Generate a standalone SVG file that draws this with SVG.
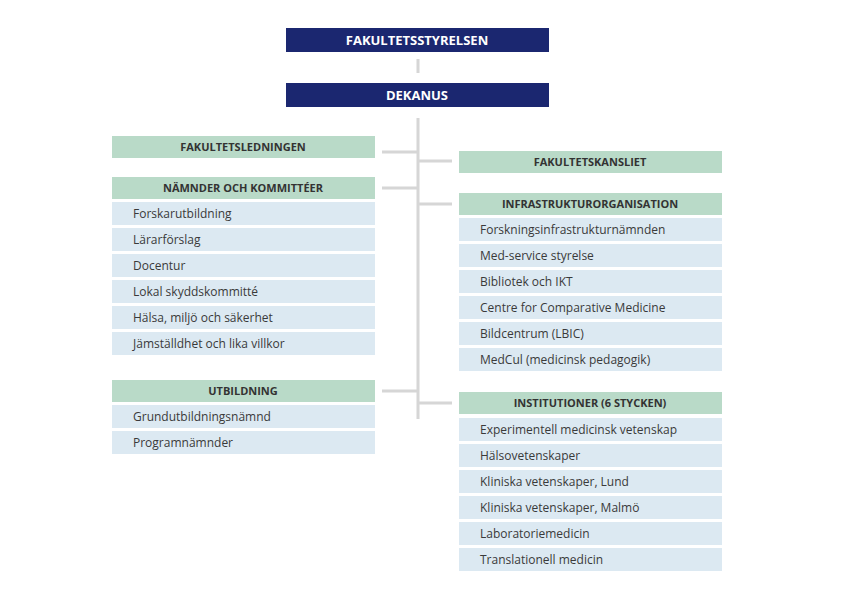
<svg xmlns="http://www.w3.org/2000/svg" width="848" height="594" viewBox="0 0 848 594">
<style>
.top{fill:#1b2770}
.tt{fill:#fff;font:bold 13px "Open Sans",sans-serif;text-anchor:middle}
.h{fill:#b9dac8}
.ht{fill:#333;font:bold 11px "Open Sans",sans-serif;text-anchor:middle}
.i{fill:#dce9f2}
.it{fill:#3a3a3a;font:12px "Open Sans",sans-serif}
.c{stroke:#d6d6d6;stroke-width:3;fill:none}
</style>
<rect width="848" height="594" fill="#fff"/>
<g id="connectors">
<path class="c" d="M418 59V73M418 118V419M382 152H418M382 188H418M382 391H418M418 161H452M418 204H452M418 403H452"/>
</g>
<g id="fakultetsstyrelsen"><rect class="top" x="286" y="28" width="263" height="24"/><text class="tt" x="417" y="45">FAKULTETSSTYRELSEN</text></g>
<g id="dekanus"><rect class="top" x="286" y="83" width="263" height="24"/><text class="tt" x="417" y="100">DEKANUS</text></g>
<g id="fakultetsledningen"><rect class="h" x="112" y="136" width="263" height="22"/><text class="ht" x="243" y="151">FAKULTETSLEDNINGEN</text></g>
<g id="namnder">
<rect class="h" x="112" y="177" width="263" height="22"/><text class="ht" x="243" y="192">NÄMNDER OCH KOMMITTÉER</text>
<rect class="i" x="112" y="202" width="263" height="23"/><text class="it" x="133" y="218">Forskarutbildning</text>
<rect class="i" x="112" y="228" width="263" height="23"/><text class="it" x="133" y="244">Lärarförslag</text>
<rect class="i" x="112" y="254" width="263" height="23"/><text class="it" x="133" y="270">Docentur</text>
<rect class="i" x="112" y="280" width="263" height="23"/><text class="it" x="133" y="296">Lokal skyddskommitté</text>
<rect class="i" x="112" y="306" width="263" height="23"/><text class="it" x="133" y="322">Hälsa, miljö och säkerhet</text>
<rect class="i" x="112" y="332" width="263" height="23"/><text class="it" x="133" y="348">Jämställdhet och lika villkor</text>
</g>
<g id="utbildning">
<rect class="h" x="112" y="380" width="263" height="22"/><text class="ht" x="243" y="395">UTBILDNING</text>
<rect class="i" x="112" y="405" width="263" height="23"/><text class="it" x="133" y="421">Grundutbildningsnämnd</text>
<rect class="i" x="112" y="431" width="263" height="23"/><text class="it" x="133" y="447">Programnämnder</text>
</g>
<g id="fakultetskansliet"><rect class="h" x="459" y="151" width="263" height="22"/><text class="ht" x="590" y="166">FAKULTETSKANSLIET</text></g>
<g id="infrastruktur">
<rect class="h" x="459" y="193" width="263" height="22"/><text class="ht" x="590" y="208">INFRASTRUKTURORGANISATION</text>
<rect class="i" x="459" y="218" width="263" height="23"/><text class="it" x="480" y="234">Forskningsinfrastrukturnämnden</text>
<rect class="i" x="459" y="244" width="263" height="23"/><text class="it" x="480" y="260">Med-service styrelse</text>
<rect class="i" x="459" y="270" width="263" height="23"/><text class="it" x="480" y="286">Bibliotek och IKT</text>
<rect class="i" x="459" y="296" width="263" height="23"/><text class="it" x="480" y="312">Centre for Comparative Medicine</text>
<rect class="i" x="459" y="322" width="263" height="23"/><text class="it" x="480" y="338">Bildcentrum (LBIC)</text>
<rect class="i" x="459" y="348" width="263" height="23"/><text class="it" x="480" y="364">MedCul (medicinsk pedagogik)</text>
</g>
<g id="institutioner">
<rect class="h" x="459" y="392" width="263" height="22"/><text class="ht" x="590" y="407">INSTITUTIONER (6 STYCKEN)</text>
<rect class="i" x="459" y="418" width="263" height="23"/><text class="it" x="480" y="434">Experimentell medicinsk vetenskap</text>
<rect class="i" x="459" y="444" width="263" height="23"/><text class="it" x="480" y="460">Hälsovetenskaper</text>
<rect class="i" x="459" y="470" width="263" height="23"/><text class="it" x="480" y="486">Kliniska vetenskaper, Lund</text>
<rect class="i" x="459" y="496" width="263" height="23"/><text class="it" x="480" y="512">Kliniska vetenskaper, Malmö</text>
<rect class="i" x="459" y="522" width="263" height="23"/><text class="it" x="480" y="538">Laboratoriemedicin</text>
<rect class="i" x="459" y="548" width="263" height="23"/><text class="it" x="480" y="564">Translationell medicin</text>
</g>
</svg>
